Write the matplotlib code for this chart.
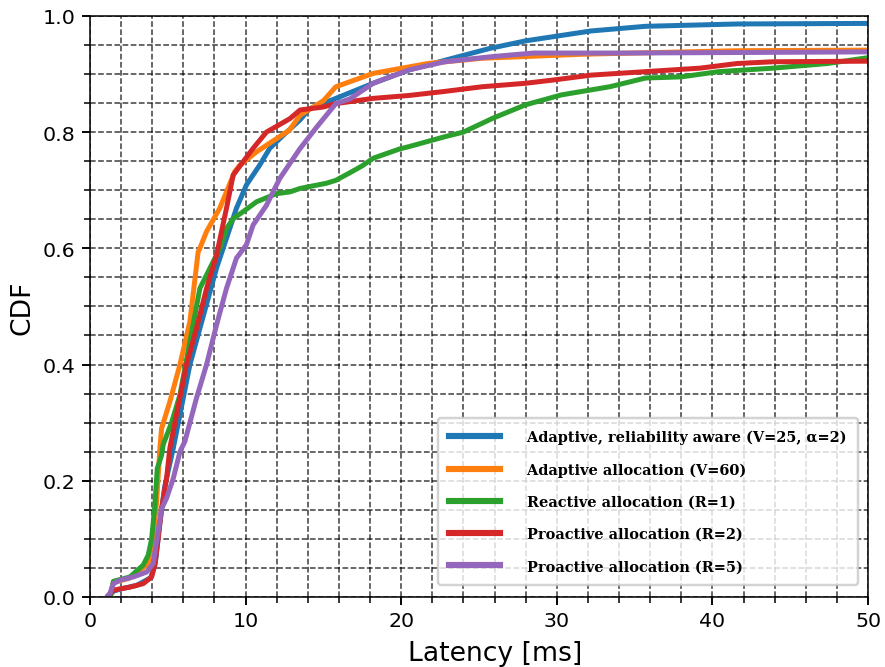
import matplotlib
matplotlib.use("Agg")
import matplotlib.pyplot as plt
from matplotlib.ticker import MultipleLocator

# ---- data ----
blue_x = [1.2, 1.5, 2.0, 3.0, 3.9, 4.2, 4.45, 4.8, 5.35, 6.42, 8.13, 8.98, 9.41, 10.05, 10.9, 11.55,
          12.4, 13.5, 14.1, 15.8, 18.2, 20.5, 23.3, 25.7, 28.0, 32.2, 35.7, 41.6, 50.0]
blue_y = [0.0, 0.010, 0.014, 0.020, 0.033, 0.06, 0.12, 0.19, 0.256, 0.40, 0.566, 0.634, 0.669, 0.709,
          0.743, 0.772, 0.794, 0.821, 0.840, 0.858, 0.884, 0.907, 0.927, 0.944, 0.957, 0.974, 0.982,
          0.986, 0.987]

orange_x = [1.3, 1.5, 2.5, 3.4, 3.74, 4.06, 4.28, 4.49, 4.6, 5.13, 5.78, 6.42, 6.95, 7.06, 7.49, 8.34,
            9.3, 9.63, 10.7, 12.8, 13.5, 15.0, 15.8, 18.2, 21.7, 25.2, 31.7, 41.6, 50.0]
orange_y = [0.0, 0.025, 0.032, 0.05, 0.058, 0.10, 0.164, 0.256, 0.29, 0.336, 0.40, 0.474, 0.594, 0.60,
            0.629, 0.669, 0.732, 0.743, 0.766, 0.803, 0.829, 0.854, 0.878, 0.901, 0.918, 0.927, 0.934,
            0.940, 0.941]

green_x = [1.3, 1.5, 2.57, 3.42, 3.74, 3.96, 4.17, 4.32, 4.6, 4.7, 5.24, 5.78, 6.74, 7.06, 7.6, 8.34,
           8.77, 9.2, 9.84, 10.7, 11.98, 12.84, 13.5, 15.2, 15.8, 16.7, 17.5, 18.2, 19.9, 20.5, 22.8,
           24.0, 25.9, 28.0, 30.3, 33.4, 35.7, 38.0, 40.4, 43.9, 47.4, 50.0]
green_y = [0.0, 0.027, 0.0345, 0.055, 0.072, 0.10, 0.158, 0.221, 0.244, 0.262, 0.30, 0.348, 0.485, 0.531,
           0.56, 0.60, 0.634, 0.651, 0.663, 0.68, 0.694, 0.697, 0.703, 0.712, 0.717, 0.730, 0.742, 0.755,
           0.771, 0.775, 0.792, 0.800, 0.824, 0.847, 0.864, 0.878, 0.893, 0.895, 0.904, 0.910, 0.918,
           0.928]

red_x = [1.18, 1.5, 1.93, 2.57, 3.42, 3.96, 4.17, 4.38, 4.6, 4.92, 5.13, 5.56, 6.2, 6.84, 7.49, 8.13,
         8.77, 9.2, 9.84, 10.48, 11.34, 12.84, 13.5, 14.96, 15.8, 18.2, 20.5, 22.8, 25.2, 28.0, 29.9,
         32.2, 35.7, 39.2, 41.6, 43.9, 50.0]
red_y = [0.003, 0.0115, 0.014, 0.017, 0.023, 0.0345, 0.055, 0.10, 0.152, 0.204, 0.256, 0.314, 0.40,
         0.462, 0.531, 0.588, 0.669, 0.726, 0.749, 0.772, 0.80, 0.823, 0.838, 0.843, 0.849, 0.858, 0.863,
         0.870, 0.878, 0.884, 0.890, 0.898, 0.904, 0.910, 0.918, 0.921, 0.922]

purple_x = [1.1, 1.28, 1.5, 1.93, 2.78, 3.64, 4.06, 4.28, 4.6, 4.92, 5.35, 5.78, 6.1, 6.84, 7.49, 8.13,
            8.77, 9.41, 10.05, 10.48, 11.34, 12.19, 13.48, 14.55, 15.8, 16.7, 18.2, 20.5, 22.8, 25.9,
            28.5, 34.5, 50.0]
purple_y = [0.0, 0.006, 0.023, 0.029, 0.0345, 0.043, 0.0575, 0.095, 0.152, 0.17, 0.204, 0.25, 0.268,
            0.342, 0.40, 0.468, 0.531, 0.583, 0.606, 0.64, 0.674, 0.72, 0.771, 0.808, 0.849, 0.857, 0.884,
            0.907, 0.921, 0.930, 0.936, 0.936, 0.938]

labels = ["   Adaptive, reliability aware (V=25, \u03b1=2)",
          "   Adaptive allocation (V=60)",
          "   Reactive allocation (R=1)",
          "   Proactive allocation (R=2)",
          "   Proactive allocation (R=5)"]
colors = ["#1f77b4", "#ff7f0e", "#2ca02c", "#d62728", "#9467bd"]

fig = plt.figure(figsize=(6.4, 4.83), dpi=138.3)
ax = fig.add_axes([0.1017, 0.1048, 0.879, 0.870])

series = [(blue_x, blue_y), (orange_x, orange_y), (green_x, green_y), (red_x, red_y), (purple_x, purple_y)]
handles = []
for i, (xs, ys) in enumerate(series):
    h, = ax.plot(xs, ys, color=colors[i], lw=2.6, label=labels[i])
    handles.append(h)

ax.set_xlim(0, 50)
ax.set_ylim(0, 1.0)
ax.xaxis.set_major_locator(MultipleLocator(10))
ax.xaxis.set_minor_locator(MultipleLocator(2))
ax.yaxis.set_major_locator(MultipleLocator(0.2))
ax.yaxis.set_minor_locator(MultipleLocator(0.05))
ax.grid(which="both", linestyle="--", color="black", linewidth=0.8, alpha=0.75)
ax.tick_params(which="major", length=4, width=1, labelsize=10.7)
ax.tick_params(which="minor", length=3, width=0.8)
ax.set_axisbelow(True)
ax.set_xlabel("Latency [ms]", fontsize=13.9, labelpad=5, x=0.521)
ax.set_ylabel("CDF", fontsize=13.9, labelpad=4)

leg = ax.legend(handles=handles, loc="lower right", bbox_to_anchor=(0.987, 0.021),
                borderaxespad=0,
                prop={"family": "DejaVu Serif", "weight": "bold", "size": 7.55},
                handlelength=3.5, handletextpad=0.8, labelspacing=1.25, borderpad=0.8,
                fancybox=True, framealpha=0.8, edgecolor="#c8c8c8")
leg.get_frame().set_linewidth(1.3)
for line in leg.get_lines():
    line.set_linewidth(3.2)

fig.savefig("out.png", dpi=138.3)
